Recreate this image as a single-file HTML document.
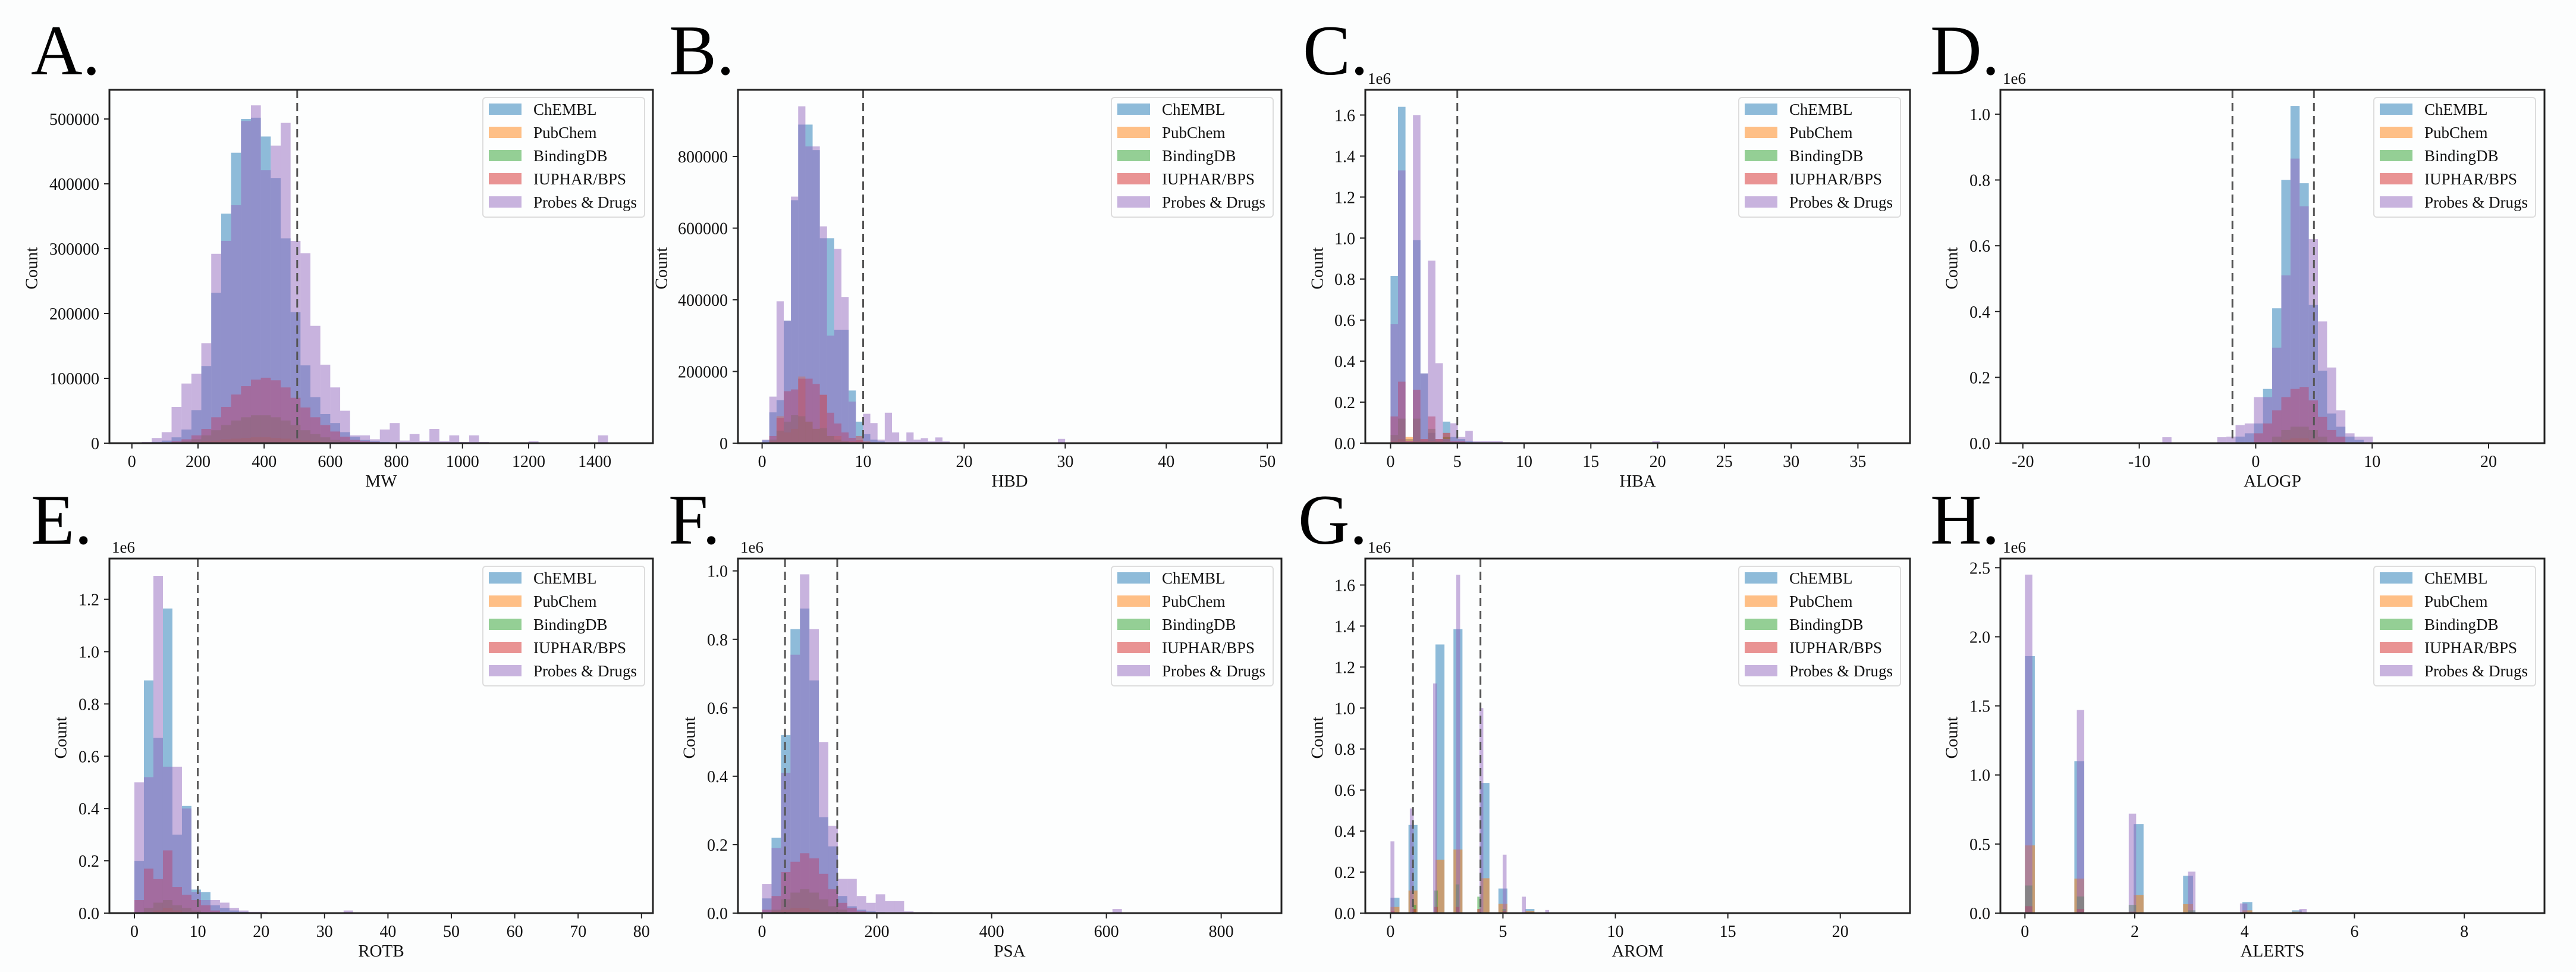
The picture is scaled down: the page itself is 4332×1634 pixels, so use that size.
<!DOCTYPE html>
<html><head><meta charset="utf-8"><style>
html,body{margin:0;padding:0;background:#fcfdfd;}
svg{display:block;font-family:"Liberation Serif",serif;}
</style></head><body>
<svg id="fig" width="4332" height="1634" viewBox="0 0 4332 1634" xmlns="http://www.w3.org/2000/svg"></svg>
<script>
// ===== DATA =====
const seriesNames = ["ChEMBL","PubChem","BindingDB","IUPHAR/BPS","Probes & Drugs"];
const seriesColors = ["#1f77b4","#ff7f0e","#2ca02c","#d62728","#9467bd"];

// A: MW (counts in thousands), bins start 0 width 30
const A_xlabel = "MW";
const A_bins = [[0,30],[0,30],[0,30],[0,30],[0,30]];
const A_chembl = [0,1,2,4,9,21,51,119,232,354,448,500,502,473,409,316,202,120,71,45,31,17,10,5,3,2,1,1,1,1,1,1,1];
const A_pubchem = [0,0,0,0,0,1,2,3,4,6,7,8,9,9,8,7,5,4,3,2,1,1];
const A_bindingdb = [0,0,0,0,1,3,6,12,20,28,35,40,43,43,40,35,28,20,14,9,5,3,2,1];
const A_iuphar = [0,0,0,1,3,6,12,22,40,56,75,88,98,101,97,86,70,55,40,28,18,10,5,3,2,1,1];
const A_probes = [0,2,8,17,56,92,107,154,292,312,367,497,521,421,459,494,312,293,181,121,86,50,12,12,6,21,31,4,14,3,22,3,12,2,12,2,1,1,1,1,3,1,1,1,1,1,1,12];
const A_xticks = [0,200,400,600,800,1000,1200,1400];
const A_yticks = [0,100,200,300,400,500];
const A_ytickLabels = ["0","100000","200000","300000","400000","500000"];
const A_vlines = [500];

// B: HBD (thousands)
const B_xlabel = "HBD";
const B_bins = [[0,0.714],[0,0.714],[0,0.714],[0,0.714],[0,0.714]];
const B_chembl = [8,86,120,342,678,889,889,818,572,572,316,316,147,60,25,10,5,2];
const B_pubchem = [0,5,75,30,40,186,60,40,135,20,20,5,5,20,5];
const B_bindingdb = [0,10,35,60,78,75,60,40,42,20,10,5,2];
const B_iuphar = [0,20,70,145,150,180,180,165,135,85,55,30,15,8,3];
const B_probes = [10,130,396,342,688,940,828,828,605,300,542,408,116,20,82,56,10,85,30,5,30,10,14,5,16,5,0,0,0,0,0,0,0,0,0,0,0,0,0,0,0,12];
const B_xticks = [0,10,20,30,40,50];
const B_yticks = [0,200,400,600,800];
const B_ytickLabels = ["0","200000","400000","600000","800000"];
const B_vlines = [10];

// C: HBA (1e6)
const C_xlabel = "HBA";
const C_bins = [[0,0.56],[0,0.56],[0,0.56],[0,0.56],[0,0.56]];
const C_chembl = [0.815,1.64,0.02,0.99,0.34,0.05,0.02,0.105,0.03,0.02,0.01,0.005];
const C_pubchem = [0.01,0.02,0.03,0.01,0.02,0.01,0.02,0.005];
const C_bindingdb = [0.04,0.12,0,0.12,0.01,0.07,0.01,0.03,0.005];
const C_iuphar = [0.13,0.30,0.01,0.26,0.02,0.13,0.02,0.05,0.01,0.01];
const C_probes = [0.58,1.33,0.01,1.60,0.34,0.89,0.39,0.02,0.097,0.03,0.06,0.01,0.01,0.01,0.01,0.005,0,0,0,0,0,0,0,0,0,0,0,0,0,0,0,0,0,0,0,0.01];
const C_xticks = [0,5,10,15,20,25,30,35];
const C_yticks = [0,0.2,0.4,0.6,0.8,1.0,1.2,1.4,1.6];
const C_ytickLabels = ["0.0","0.2","0.4","0.6","0.8","1.0","1.2","1.4","1.6"];
const C_vlines = [5];

// D: ALOGP (1e6)
const D_xlabel = "ALOGP";
const D_bins = [[-8.02,0.786],[-8.02,0.786],[-8.02,0.786],[-8.02,0.786],[-8.02,0.786]];
const D_chembl = [0,0,0,0,0,0,0,0,0.02,0.03,0.06,0.165,0.41,0.80,1.025,0.79,0.42,0.22,0.09,0.05,0.02,0.01];
const D_pubchem = [0,0,0,0,0,0,0,0,0,0,0,0,0,0.01,0.015,0.015,0.01];
const D_bindingdb = [0,0,0,0,0,0,0,0,0,0,0,0,0.02,0.04,0.05,0.05,0.04,0.02];
const D_iuphar = [0,0,0,0,0,0,0,0,0,0,0.03,0.06,0.10,0.14,0.165,0.17,0.13,0.08,0.04,0.02];
const D_probes = [0.018,0,0,0,0,0,0.018,0.02,0.055,0.06,0.14,0.14,0.29,0.51,0.865,0.72,0.62,0.37,0.23,0.10,0.03,0.02,0.02];
const D_xticks = [-20,-10,0,10,20];
const D_yticks = [0,0.2,0.4,0.6,0.8,1.0];
const D_ytickLabels = ["0.0","0.2","0.4","0.6","0.8","1.0"];
const D_vlines = [-2,5];

// E: ROTB (1e6)
const E_xlabel = "ROTB";
const E_bins = [[0,1.5],[0,1.5],[0,1.5],[0,1.5],[0,1.5]];
const E_chembl = [0.20,0.89,0.67,1.165,0.30,0.41,0.09,0.08,0.03,0.02,0.01,0.005];
const E_pubchem = [0,0,0.01,0.02,0.01];
const E_bindingdb = [0,0.02,0.04,0.05,0.03,0.02,0.01];
const E_iuphar = [0.05,0.17,0.13,0.24,0.10,0.07,0.05,0.03,0.01];
const E_probes = [0.50,0.52,1.29,0.56,0.56,0.40,0.08,0.05,0.05,0.04,0.02,0.01,0.005,0.005,0.003,0,0,0,0,0,0,0,0.01];
const E_xticks = [0,10,20,30,40,50,60,70,80];
const E_yticks = [0,0.2,0.4,0.6,0.8,1.0,1.2];
const E_ytickLabels = ["0.0","0.2","0.4","0.6","0.8","1.0","1.2"];
const E_vlines = [10];

// F: PSA (1e6)
const F_xlabel = "PSA";
const F_bins = [[0,16.5],[0,16.5],[0,16.5],[0,16.5],[0,16.5]];
const F_chembl = [0.043,0.22,0.52,0.83,0.89,0.68,0.28,0.195,0.05,0.02,0.01,0.005,0.003,0.002];
const F_pubchem = [0,0.005,0.01,0.015,0.015,0.01,0.005];
const F_bindingdb = [0,0.01,0.04,0.06,0.07,0.06,0.04,0.02,0.01];
const F_iuphar = [0.01,0.05,0.12,0.15,0.175,0.16,0.115,0.07,0.03,0.015,0.005];
const F_probes = [0.085,0.19,0.41,0.755,0.99,0.83,0.50,0.255,0.10,0.10,0.05,0.03,0.055,0.035,0.035,0.005,0.003,0.003,0.002,0.002,0.002,0.002,0,0,0,0,0,0,0,0,0,0,0,0,0,0,0,0.012];
const F_xticks = [0,200,400,600,800];
const F_yticks = [0,0.2,0.4,0.6,0.8,1.0];
const F_ytickLabels = ["0.0","0.2","0.4","0.6","0.8","1.0"];
const F_vlines = [40,131];

// G: AROM (1e6)
const G_xlabel = "AROM";
const G_bins = [[0,0.4],[0,0.4],[0.02,0.16],[0.02,0.16],[0,0.172]];
const G_chembl = [0.075,0,0.43,0,0,1.31,0,1.385,0,0,0.635,0,0.12,0,0,0.02];
const G_pubchem = [0.03,0,0.11,0,0,0.26,0,0.31,0,0,0.17,0,0.045,0,0,0.01];
const G_bindingdb = [0,0,0,0,0,0,0.04,0,0,0,0,0,0.11,0,0,0,0,0,0.14,0,0,0,0,0,0.08,0,0,0,0,0,0,0.02];
const G_iuphar = [0.01,0,0,0,0,0,0.02,0,0,0,0,0,0.03,0,0,0,0,0,0.03,0,0,0,0,0,0.02,0,0,0,0,0,0,0.01];
const G_probes = [0.35,0,0,0,0,0.51,0,0,0,0,0,1.12,0,0,0,0,0,1.65,0,0,0,0,0,1.0,0,0,0,0,0,0.285,0,0,0,0,0.08,0,0,0,0,0,0.015];
const G_xticks = [0,5,10,15,20];
const G_yticks = [0,0.2,0.4,0.6,0.8,1.0,1.2,1.4,1.6];
const G_ytickLabels = ["0.0","0.2","0.4","0.6","0.8","1.0","1.2","1.4","1.6"];
const G_vlines = [1,4];

// H: ALERTS (1e6)
const H_xlabel = "ALERTS";
const H_bins = [[0,0.18],[0,0.18],[0,0.135],[0,0.135],[0,0.135]];
const H_chembl = [1.86,0,0,0,0,1.10,0,0,0,0,0,0.645,0,0,0,0,0.27,0,0,0,0,0,0.08,0,0,0,0,0.02];
const H_pubchem = [0.49,0,0,0,0,0.25,0,0,0,0,0,0.13,0,0,0,0,0.065,0,0,0,0,0,0.02,0,0,0,0,0.01];
const H_bindingdb = [0.2,0,0,0,0,0,0,0.12,0,0,0,0,0,0,0.06,0,0,0,0,0,0,0,0.02];
const H_iuphar = [0.05,0,0,0,0,0,0,0.03,0,0,0,0,0,0,0.01];
const H_probes = [2.45,0,0,0,0,0,0,1.47,0,0,0,0,0,0,0.72,0,0,0,0,0,0,0,0.30,0,0,0,0,0,0,0.07,0,0,0,0,0,0,0,0.03];
const H_xticks = [0,2,4,6,8];
const H_yticks = [0,0.5,1.0,1.5,2.0,2.5];
const H_ytickLabels = ["0.0","0.5","1.0","1.5","2.0","2.5"];
const H_vlines = [];

// ===== LAYOUT =====
const NS = "http://www.w3.org/2000/svg";
const svg = document.getElementById("fig");
function mk(tag, attrs, parent){
  const e = document.createElementNS(NS, tag);
  for (const k in attrs) e.setAttribute(k, attrs[k]);
  (parent||svg).appendChild(e);
  return e;
}
const panels = [
  {id:"a", letter:"A.", lx:52, ly:125, l:184, t:151, w:914, h:594, xlim:[-68,1576], ylim:[0,545], xlabel:A_xlabel, bins:A_bins, series:[A_chembl,A_pubchem,A_bindingdb,A_iuphar,A_probes], xticks:A_xticks, yticks:A_yticks, ytl:A_ytickLabels, vlines:A_vlines, sci:false, ylx:56},
  {id:"b", letter:"B.", lx:1125, ly:125, l:1241, t:151, w:914, h:594, xlim:[-2.39,51.4], ylim:[0,986], xlabel:B_xlabel, bins:B_bins, series:[B_chembl,B_pubchem,B_bindingdb,B_iuphar,B_probes], xticks:B_xticks, yticks:B_yticks, ytl:B_ytickLabels, vlines:B_vlines, sci:false, ylx:1115},
  {id:"c", letter:"C.", lx:2191, ly:125, l:2296, t:151, w:916, h:594, xlim:[-1.89,38.9], ylim:[0,1.723], xlabel:C_xlabel, bins:C_bins, series:[C_chembl,C_pubchem,C_bindingdb,C_iuphar,C_probes], xticks:C_xticks, yticks:C_yticks, ytl:C_ytickLabels, vlines:C_vlines, sci:true, ylx:2218},
  {id:"d", letter:"D.", lx:3246, ly:125, l:3364, t:151, w:915, h:594, xlim:[-21.93,24.8], ylim:[0,1.074], xlabel:D_xlabel, bins:D_bins, series:[D_chembl,D_pubchem,D_bindingdb,D_iuphar,D_probes], xticks:D_xticks, yticks:D_yticks, ytl:D_ytickLabels, vlines:D_vlines, sci:true, ylx:3285},
  {id:"e", letter:"E.", lx:52, ly:914, l:184, t:939, w:914, h:596, xlim:[-3.94,81.8], ylim:[0,1.356], xlabel:E_xlabel, bins:E_bins, series:[E_chembl,E_pubchem,E_bindingdb,E_iuphar,E_probes], xticks:E_xticks, yticks:E_yticks, ytl:E_ytickLabels, vlines:E_vlines, sci:true, ylx:105},
  {id:"f", letter:"F.", lx:1124, ly:914, l:1241, t:939, w:914, h:596, xlim:[-42,905], ylim:[0,1.036], xlabel:F_xlabel, bins:F_bins, series:[F_chembl,F_pubchem,F_bindingdb,F_iuphar,F_probes], xticks:F_xticks, yticks:F_yticks, ytl:F_ytickLabels, vlines:F_vlines, sci:true, ylx:1162},
  {id:"g", letter:"G.", lx:2183, ly:914, l:2296, t:939, w:916, h:596, xlim:[-1.12,23.1], ylim:[0,1.729], xlabel:G_xlabel, bins:G_bins, series:[G_chembl,G_pubchem,G_bindingdb,G_iuphar,G_probes], xticks:G_xticks, yticks:G_yticks, ytl:G_ytickLabels, vlines:G_vlines, sci:true, ylx:2218},
  {id:"h", letter:"H.", lx:3246, ly:914, l:3364, t:939, w:915, h:596, xlim:[-0.447,9.46], ylim:[0,2.566], xlabel:H_xlabel, bins:H_bins, series:[H_chembl,H_pubchem,H_bindingdb,H_iuphar,H_probes], xticks:H_xticks, yticks:H_yticks, ytl:H_ytickLabels, vlines:H_vlines, sci:true, ylx:3285}
];
const seriesKeys = ["chembl","pubchem","bindingdb","iuphar","probes"];

panels.forEach(p => {
  const g = mk("g", {});
  
  
  const sx = v => p.l + (v - p.xlim[0]) / (p.xlim[1] - p.xlim[0]) * p.w;
  const sy = v => p.t + p.h - (v - p.ylim[0]) / (p.ylim[1] - p.ylim[0]) * p.h;
  const bottom = p.t + p.h;

  const lt = mk("text", {x:p.lx, y:p.ly, "font-size":120, fill:"#000"}, g);
  lt.textContent = p.letter;
  
  

  const bg = mk("rect", {x:p.l, y:p.t, width:p.w, height:p.h, fill:"#fdfefe"}, g);
  
  

  const cid = "clip-" + p.id;
  const cp = mk("clipPath", {id:cid}, g);
  mk("rect", {x:p.l, y:p.t, width:p.w, height:p.h}, cp);
  const bars = mk("g", {"clip-path":"url(#"+cid+")"}, g);
  
  

  p.series.forEach((vals, si) => {
    const [start, width] = p.bins[si];
    vals.forEach((v, i) => {
      if (v <= 0) return;
      const x0 = sx(start + i * width), x1 = sx(start + (i + 1) * width);
      const y = sy(v);
      const r = mk("rect", {x:x0, y:y, width:Math.max(0.5, x1 - x0), height:bottom - y, fill:seriesColors[si], "fill-opacity":0.5}, bars);
      
      
    });
  });

  p.vlines.forEach(v => {
    const ln = mk("line", {x1:sx(v), x2:sx(v), y1:p.t, y2:bottom, stroke:"#555", "stroke-width":3, "stroke-dasharray":"14,8"}, g);
    
    
  });

  const frame = mk("rect", {x:p.l, y:p.t, width:p.w, height:p.h, fill:"none", stroke:"#222", "stroke-width":3}, g);
  
  

  p.xticks.forEach(v => {
    const x = sx(v);
    mk("line", {x1:x, x2:x, y1:bottom, y2:bottom + 9, stroke:"#222", "stroke-width":2}, g);
    const t = mk("text", {x:x, y:bottom + 40, "font-size":28, "text-anchor":"middle", fill:"#111"}, g);
    t.textContent = String(v);
    
    
  });
  p.yticks.forEach((v, i) => {
    const y = sy(v);
    mk("line", {x1:p.l - 9, x2:p.l, y1:y, y2:y, stroke:"#222", "stroke-width":2}, g);
    const t = mk("text", {x:p.l - 17, y:y + 10, "font-size":28, "text-anchor":"end", fill:"#111"}, g);
    t.textContent = p.ytl[i];
    
    
  });
  if (p.sci) {
    const s = mk("text", {x:p.l + 4, y:p.t - 10, "font-size":27, fill:"#111"}, g);
    s.textContent = "1e6";
    
    
  }
  const xl = mk("text", {x:p.l + p.w / 2, y:bottom + 73, "font-size":29, "text-anchor":"middle", fill:"#111"}, g);
  xl.textContent = p.xlabel;
  
  
  const cy = p.t + p.h / 2 + 3;
  const yl = mk("text", {x:p.ylx, y:cy, "font-size":29, "text-anchor":"middle", transform:"rotate(-90 " + p.ylx + " " + cy + ")", "dominant-baseline":"middle", fill:"#111"}, g);
  yl.textContent = "Count";
  
  

  const lg = mk("g", {}, g);
  
  
  mk("rect", {x:p.l + 628, y:p.t + 13, width:272, height:201, rx:5, fill:"#fdfefe", stroke:"#ddd", "stroke-width":2}, lg);
  seriesNames.forEach((n, si) => {
    const cyy = p.t + 33 + si * 39;
    const pr = mk("rect", {x:p.l + 638, y:cyy - 10, width:55, height:19, fill:seriesColors[si], "fill-opacity":0.5}, lg);
    
    
    const tx = mk("text", {x:p.l + 713, y:cyy + 9, "font-size":27, fill:"#111"}, lg);
    tx.textContent = n;
    
    
  });
});
</script>
</body></html>
